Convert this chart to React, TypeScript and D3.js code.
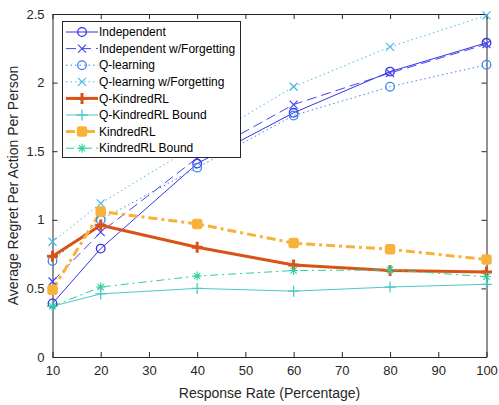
import React, { useEffect, useRef } from 'react';
import * as d3 from 'd3';

// response rates (x)
const responseRates = [10, 20, 40, 60, 80, 100];

// regret per series
const independent = [0.39, 0.79, 1.41, 1.78, 2.08, 2.29];
const independentForget = [0.55, 0.91, 1.45, 1.84, 2.07, 2.28];
const qLearning = [0.70, 1.0, 1.38, 1.76, 1.97, 2.13];
const qLearningForget = [0.84, 1.12, 1.55, 1.97, 2.26, 2.49];
const qKindred = [0.735, 0.96, 0.80, 0.67, 0.63, 0.62];
const qKindredBound = [0.37, 0.46, 0.50, 0.48, 0.51, 0.53];
const kindred = [0.49, 1.06, 0.97, 0.83, 0.785, 0.71];
const kindredBound = [0.37, 0.51, 0.59, 0.63, 0.635, 0.585];

const xTicks = [10, 20, 30, 40, 50, 60, 70, 80, 90, 100];
const yTicks = [0, 0.5, 1, 1.5, 2, 2.5];

type Marker = 'circle' | 'x' | 'plus' | 'square' | 'star';

interface Series {
  name: string;
  values: number[];
  color: string;
  width: number;
  dash: string | null;
  marker: Marker;
}

const series: Series[] = [
  { name: 'Independent', values: independent, color: '#3535e8', width: 1, dash: null, marker: 'circle' },
  { name: 'Independent w/Forgetting', values: independentForget, color: '#4545f0', width: 1, dash: '10,5', marker: 'x' },
  { name: 'Q-learning', values: qLearning, color: '#3f86ee', width: 1, dash: '1.5,3', marker: 'circle' },
  { name: 'Q-learning w/Forgetting', values: qLearningForget, color: '#4cb8e8', width: 1, dash: '1.5,3', marker: 'x' },
  { name: 'Q-KindredRL', values: qKindred, color: '#d95319', width: 3, dash: null, marker: 'plus' },
  { name: 'Q-KindredRL Bound', values: qKindredBound, color: '#4cc8c8', width: 1, dash: null, marker: 'plus' },
  { name: 'KindredRL', values: kindred, color: '#f8b23a', width: 3, dash: '9,4,3,4', marker: 'square' },
  { name: 'KindredRL Bound', values: kindredBound, color: '#2ecf98', width: 1, dash: '8,4,2,4', marker: 'star' },
];

function drawMarker(g: d3.Selection<SVGGElement, unknown, null, undefined>, m: Marker, x: number, y: number, color: string) {
  if (m === 'circle') {
    g.append('circle').attr('cx', x).attr('cy', y).attr('r', 4.3)
      .attr('fill', 'none').attr('stroke', color).attr('stroke-width', 1.3);
  } else if (m === 'x') {
    const s = 4;
    g.append('path').attr('d', `M${x - s},${y - s}L${x + s},${y + s}M${x - s},${y + s}L${x + s},${y - s}`)
      .attr('stroke', color).attr('stroke-width', 1.2);
  } else if (m === 'plus') {
    const s = 5.5;
    g.append('path').attr('d', `M${x - s},${y}L${x + s},${y}M${x},${y - s}L${x},${y + s}`)
      .attr('stroke', color).attr('stroke-width', color === '#d95319' ? 3 : 1.3);
  } else if (m === 'square') {
    g.append('rect').attr('x', x - 4.5).attr('y', y - 4.5).attr('width', 9).attr('height', 9)
      .attr('rx', 2).attr('fill', color).attr('stroke', color).attr('stroke-width', 1.5);
  } else {
    const s = 4.5;
    const d = s * 0.7;
    g.append('path')
      .attr('d', `M${x - s},${y}L${x + s},${y}M${x},${y - s}L${x},${y + s}M${x - d},${y - d}L${x + d},${y + d}M${x - d},${y + d}L${x + d},${y - d}`)
      .attr('stroke', color).attr('stroke-width', 1.1);
  }
}

const App: React.FC = () => {
  const svgRef = useRef<SVGSVGElement>(null);

  useEffect(() => {
    if (!svgRef.current) return;
    const svg = d3.select(svgRef.current);
    svg.selectAll('*').remove();

    const left = 52.5, right = 486.5, top = 14, bottom = 357;
    const font = 'Liberation Sans, Arial, sans-serif';

    const x = d3.scaleLinear().domain([10, 100]).range([left, right]);
    const y = d3.scaleLinear().domain([0, 2.5]).range([bottom, top]);

    svg.append('rect').attr('x', left).attr('y', top).attr('width', right - left).attr('height', bottom - top)
      .attr('fill', '#fff');

    // axes, ticks inward on all four sides
    const xAxis = svg.append('g').attr('transform', `translate(0,${bottom})`)
      .call(d3.axisBottom(x).tickValues(xTicks).tickSizeInner(-5).tickSizeOuter(0).tickPadding(9));
    const yAxis = svg.append('g').attr('transform', `translate(${left},0)`)
      .call(d3.axisLeft(y).tickValues(yTicks).tickSizeInner(-5).tickSizeOuter(0).tickPadding(8)
        .tickFormat(d => String(d)));
    svg.append('g').attr('transform', `translate(0,${top})`)
      .call(d3.axisTop(x).tickValues(xTicks).tickSizeInner(-5).tickSizeOuter(0).tickFormat(() => ''));
    svg.append('g').attr('transform', `translate(${right},0)`)
      .call(d3.axisRight(y).tickValues(yTicks).tickSizeInner(-5).tickSizeOuter(0).tickFormat(() => ''));

    svg.selectAll('.domain').attr('stroke', '#262626');
    svg.selectAll('.tick line').attr('stroke', '#262626');
    [xAxis, yAxis].forEach(a => a.selectAll('text')
      .attr('font-family', font).attr('font-size', 13).attr('fill', '#262626'));
    xAxis.selectAll('text').attr('dy', '0.71em');

    // lines then markers
    const plot = svg.append('g');
    series.forEach(s => {
      const line = d3.line<number>()
        .x((_, i) => x(responseRates[i]))
        .y(v => y(v));
      plot.append('path').datum(s.values).attr('d', line)
        .attr('fill', 'none').attr('stroke', s.color).attr('stroke-width', s.width)
        .attr('stroke-dasharray', s.dash ?? null).attr('stroke-linejoin', 'round');
    });
    series.forEach(s => {
      const mg = plot.append('g');
      s.values.forEach((v, i) => drawMarker(mg, s.marker, x(responseRates[i]), y(v), s.color));
    });

    // legend
    const lg = svg.append('g');
    lg.append('rect').attr('x', 62.5).attr('y', 21.5).attr('width', 178).attr('height', 136)
      .attr('fill', '#fff').attr('stroke', '#262626').attr('stroke-width', 1);
    series.forEach((s, i) => {
      const ly = 32 + i * 16.6;
      lg.append('line').attr('x1', 66).attr('x2', 98).attr('y1', ly).attr('y2', ly)
        .attr('stroke', s.color).attr('stroke-width', s.width)
        .attr('stroke-dasharray', s.dash ?? null);
      drawMarker(lg as any, s.marker, 82, ly, s.color);
      lg.append('text').attr('x', 99).attr('y', ly).attr('dy', '0.35em')
        .attr('font-family', font).attr('font-size', 12).attr('fill', '#000')
        .text(s.name);
    });

    // axis titles
    svg.append('text').attr('x', (left + right) / 2).attr('y', 398).attr('text-anchor', 'middle')
      .attr('font-family', font).attr('font-size', 14).attr('fill', '#262626')
      .text('Response Rate (Percentage)');
    svg.append('text').attr('transform', `translate(18,${(top + bottom) / 2}) rotate(-90)`)
      .attr('text-anchor', 'middle')
      .attr('font-family', font).attr('font-size', 14).attr('fill', '#262626')
      .text('Average Regret Per Action Per Person');
  }, []);

  return (
    <svg ref={svgRef} width={499} height={405} viewBox="0 0 499 405"
      style={{ position: 'absolute', left: 0, top: 0, background: '#fff' }} />
  );
};

export default App;
